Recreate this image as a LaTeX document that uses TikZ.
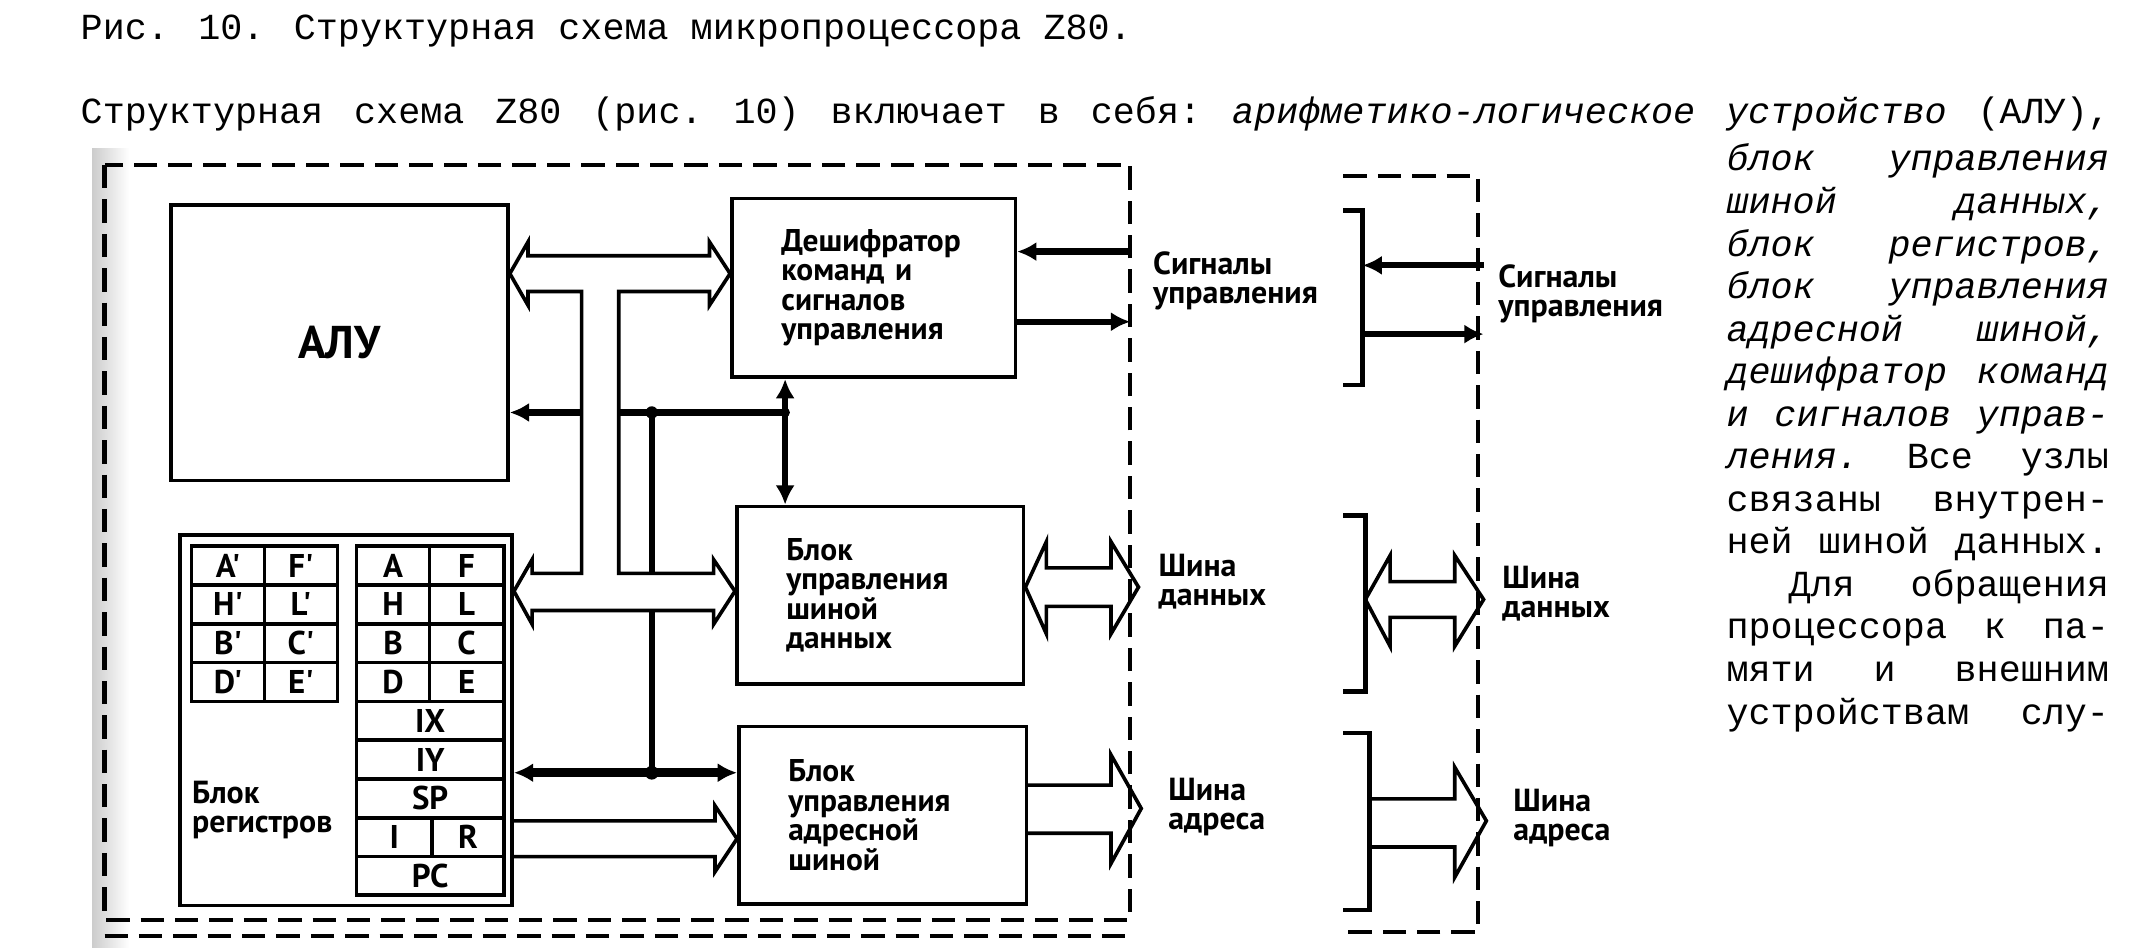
\documentclass[tikz,border=0pt]{standalone}
\usepackage{fontspec}
\setmainfont{Liberation Mono}
\newfontfamily\schemefont{PT Sans}
\usetikzlibrary{arrows.meta}

\newcommand{\jl}[1]{\makebox[2.78cm]{#1}}
\newcommand{\tightlines}{\setlength{\lineskiplimit}{-6pt}}

\begin{document}
\begin{tikzpicture}[
    x=0.01cm, y=-0.01cm,
    >={Latex[length=1.4mm,width=1.4mm]},
    block/.style={
        draw,
        line width=0.75pt,
        anchor=north west,
        inner xsep=0.36cm,
        inner ysep=0pt,
        align=left,
        font=\schemefont\bfseries\fontsize{6.5}{6.1}\selectfont\tightlines
    },
    reg/.style={
        draw,
        line width=0.75pt,
        anchor=north west,
        minimum width=0.53cm,
        minimum height=0.282cm,
        inner sep=0pt,
        font=\schemefont\bfseries\fontsize{6.8}{6.8}\selectfont
    },
    lbl/.style={
        anchor=west,
        inner sep=0pt,
        align=left,
        font=\schemefont\bfseries\fontsize{6.6}{6.0}\selectfont\tightlines
    },
    txt/.style={
        inner sep=0pt,
        font=\fontsize{7.6}{8.8}\selectfont
    },
    dashbox/.style={line width=0.85pt, dash pattern=on 0.17cm off 0.08cm},
    bus/.style={line width=0.75pt, line join=miter},
    ctl/.style={line width=1.3pt},
    abus/.style={line width=1.8pt},
    brk/.style={line width=0.9pt}
]

\useasboundingbox (0,0) rectangle (1568,689);
\fill[white] (0,0) rectangle (1568,689);
\shade[left color=black!20, right color=white] (67,108) rectangle (94,689);

% TEXT OF THE PAGE
\node[txt, anchor=base west] (cap) at (58,29)
{Рис. 10. Структурная схема микропроцессора Z80.};

\node[txt, anchor=base west] (par) at (58,90)
{\makebox[14.75cm]{Структурная\hfill схема\hfill Z80\hfill (рис.\hfill 10)\hfill включает\hfill в\hfill себя:\hfill \textit{арифметико-логическое}\hfill \textit{устройство}\hfill (АЛУ),}};

\node[txt, anchor=north west, text width=2.78cm, align=left] (col) at (1255,104)
{\jl{\itshape блок\hfill управления}\\
 \jl{\itshape шиной\hfill данных,}\\
 \jl{\itshape блок\hfill регистров,}\\
 \jl{\itshape блок\hfill управления}\\
 \jl{\itshape адресной\hfill шиной,}\\
 \jl{\itshape дешифратор\hfill команд}\\
 \jl{\itshape и\hfill сигналов\hfill управ-}\\
 \jl{\textit{ления.}\hfill Все\hfill узлы}\\
 \jl{связаны\hfill внутрен-}\\
 \jl{ней\hfill шиной\hfill данных.}\\
 \jl{\hspace*{0.45cm}Для\hfill обращения}\\
 \jl{процессора\hfill к\hfill па-}\\
 \jl{мяти\hfill и\hfill внешним}\\
 \jl{устройствам\hfill слу-}};

% FRAMES
\draw[dashbox] (76,120) rectangle (822,669);
\draw[dashbox] (76,681) -- (826,681);
\draw[dashbox] (977,128) -- (1075,128) -- (1075,678) -- (977,678);

% BLOCKS
\node[draw, line width=0.75pt, anchor=north west, minimum width=2.45cm,
      minimum height=2.0cm, inner sep=0pt,
      font=\schemefont\bfseries\fontsize{9.5}{9.5}\selectfont] (alu) at (123,148)
{АЛУ};

\node[block, text width=1.34cm, minimum height=1.30cm] (dec) at (531,143)
{Дешифратор\\команд и\\сигналов\\управления};

\node[block, text width=1.365cm, minimum height=1.29cm] (datab) at (534.5,367)
{Блок\\управления\\шиной\\данных};

\node[block, text width=1.37cm, minimum height=1.29cm] (addrb) at (536,527)
{Блок\\управления\\адресной\\шиной};

\node[draw, line width=0.75pt, anchor=north west, minimum width=2.415cm,
      minimum height=2.69cm] (regs) at (129.5,388) {};

% REGISTERS
\foreach \x/\y [count=\i from 0] in {A/F,H/L,B/C,D/E}{
    \node[reg] (alt\x) at (138,{396+28.2*\i}) {\x'};
    \node[reg] (alt\y) at (191,{396+28.2*\i}) {\y'};
    \node[reg] (reg\x) at (258,{396+28.2*\i}) {\x};
    \node[reg, minimum width=0.54cm] (reg\y) at (311,{396+28.2*\i}) {\y};
}
\foreach \r [count=\i from 4] in {IX,IY,SP}{
    \node[reg, minimum width=1.07cm] (reg\r) at (258,{396+28.2*\i}) {\r};
}
\node[reg, minimum width=0.55cm] (regI) at (258,{396+28.2*7}) {I};
\node[reg, minimum width=0.52cm] (regR) at (313,{396+28.2*7}) {R};
\node[reg, minimum width=1.07cm] (regPC) at (258,{396+28.2*8}) {PC};

\node[lbl] (regtxt) at (139,589) {Блок\\регистров};

% INTERNAL DATA BUS
\draw[bus] (alu.east |- 0,199) -- (384,176) -- (384,186) -- (516,186) -- (516,176)
    -- (dec.west |- 0,199) -- (516,222) -- (516,212) -- (450,212) -- (450,417)
    -- (519,417) -- (519,407) -- (datab.west |- 0,430) -- (519,454) -- (519,444)
    -- (387,444) -- (387,454) -- (regs.east |- 0,430) -- (387,407) -- (387,417)
    -- (423,417) -- (423,212) -- (384,212) -- (384,222) -- cycle;

\draw[bus] (regs.east |- 0,597) -- (520,597) -- (520,586) -- (addrb.west |- 0,610)
    -- (520,634) -- (520,623) -- (regs.east |- 0,623);

% CONTROL LINES
\coordinate (jdec) at (571,300);
\coordinate (jbus) at (474,300);
\coordinate (jadr) at (474,562);

\draw[ctl,<->] (dec.south -| jdec) -- (datab.north -| jdec);
\draw[ctl] (450,300) -- (jdec);
\draw[ctl,->] (423,300) -- (alu.east |- jbus);
\draw[ctl] (jbus) -- (474,417);
\draw[ctl] (474,444) -- (jadr);
\draw[abus,<->] (regs.east |- jadr) -- (addrb.west |- jadr);
\fill (jbus) circle (4.5);
\fill (jdec) circle (3.5);
\fill (jadr) circle (5);

% OUTPUTS OF THE PROCESSOR
\coordinate (sigin) at (822,183);
\coordinate (sigout) at (822,234);
\draw[ctl,<-] (dec.east |- sigin) -- (sigin);
\draw[ctl,->] (dec.east |- sigout) -- (sigout);

\coordinate (dbusL) at (828,427);
\draw[bus] (datab.east |- dbusL) -- (761,394) -- (761,413) -- (808,413) -- (808,394)
    -- (dbusL) -- (808,461) -- (808,441) -- (761,441) -- (761,461) -- cycle;

\coordinate (abusL) at (830,588);
\draw[bus] (addrb.east |- 0,571) -- (808,571) -- (808,549) -- (abusL) -- (808,628)
    -- (808,606) -- (addrb.east |- 0,606);

\node[lbl] (sigtxtL) at (838,204) {Сигналы\\управления};
\node[lbl] (dtxtL) at (842,423) {Шина\\данных};
\node[lbl] (atxtL) at (849,587) {Шина\\адреса};

% SYSTEM SIDE
\draw[brk] (977,153) -| (991,280) -- (977,280);
\draw[brk] (977,375) -| (993,503) -- (977,503);
\draw[brk] (977,533) -| (996,662) -- (977,662);

\coordinate (sigRin) at (1079,193);
\coordinate (sigRout) at (1079,243);
\draw[ctl,<-] (991,193) -- (sigRin);
\draw[ctl,->] (991,243) -- (sigRout);

\draw[bus] (993,436) -- (1011,404) -- (1011,423) -- (1058,423) -- (1058,404)
    -- (1079,436) -- (1058,470) -- (1058,449) -- (1011,449) -- (1011,470) -- cycle;

\draw[bus] (996,581) -- (1058,581) -- (1058,558) -- (1081,597) -- (1058,638)
    -- (1058,616) -- (996,616);

\node[lbl] (sigtxtR) at (1089,214) {Сигналы\\управления};
\node[lbl] (dtxtR) at (1092,432) {Шина\\данных};
\node[lbl] (atxtR) at (1100,595) {Шина\\адреса};

\end{tikzpicture}
\end{document}
